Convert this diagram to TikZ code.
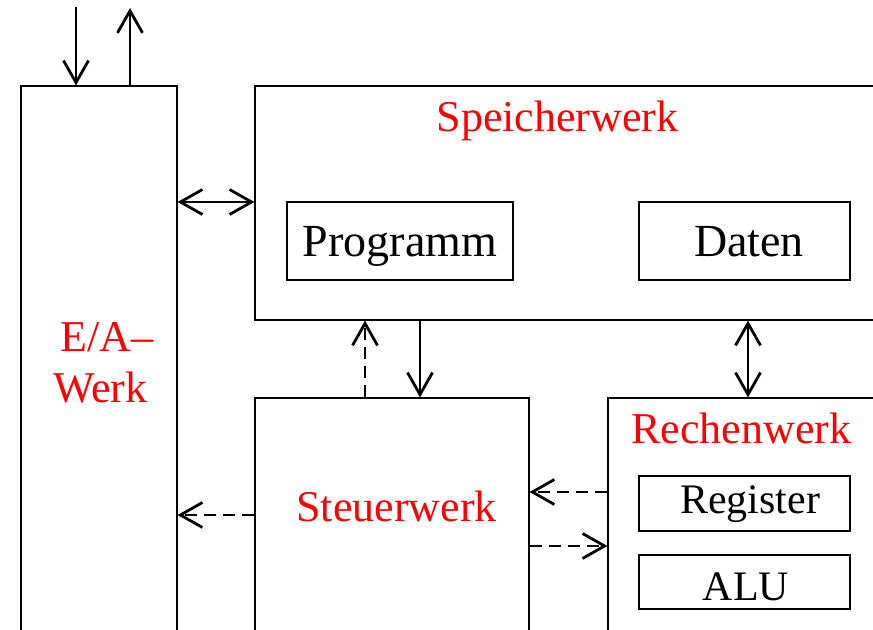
\documentclass[tikz,border=0pt]{standalone}
\usepackage{fontspec}
\setmainfont{Liberation Serif}
\usetikzlibrary{arrows.meta,fit}
\begin{document}
\begin{tikzpicture}[x=0.5pt,y=-0.5pt,
  box/.style={draw, line width=0.6pt, inner sep=0pt},
  arr/.style={line width=1.4pt, -{Straight Barb[length=11pt,width=12.5pt]}},
  darr/.style={line width=1.4pt, {Straight Barb[length=11pt,width=12.5pt]}-{Straight Barb[length=11pt,width=12.5pt]}},
  dsh/.style={dash pattern=on 6pt off 3.5pt},
  redlbl/.style={text=red, inner sep=0pt, anchor=base, font=\fontsize{22}{26}\selectfont},
  lbl/.style={inner sep=0pt, anchor=base, font=\fontsize{23}{27}\selectfont},
  slbl/.style={inner sep=0pt, anchor=base, font=\fontsize{21}{25}\selectfont}
]
\useasboundingbox (0,0) rectangle (873,630);
\fill[white] (0,0) rectangle (873,630);
\clip (0,0) rectangle (873,630);

% boxes
\node[box, fit={(21,86)(177,720)}] (ea) {};
\node[box, fit={(255,86)(960,320)}] (sp) {};
\node[box, fit={(287,202)(513,280)}] (prog) {};
\node[box, fit={(639,202)(850,280)}] (dat) {};
\node[box, fit={(255,398)(529,720)}] (st) {};
\node[box, fit={(608,398)(960,720)}] (re) {};
\node[box, fit={(639,476)(850,531)}] (reg) {};
\node[box, fit={(639,555)(850,609)}] (alu) {};

% labels
\node[redlbl] (spl) at (557.5,132) {Speicherwerk};
\node[lbl] (progl) at (400,257) {Programm};
\node[lbl] (datl) at (749,257) {Daten};
\node[redlbl] (stl) at (396.5,522) {Steuerwerk};
\node[redlbl] (rel) at (741.5,444) {Rechenwerk};
\node[slbl] (regl) at (750,514) {Register};
\node[slbl] (alul) at (746,600) {ALU};
\node[redlbl, anchor=base west] (eal1) at (60,352) {E/A–};
\node[redlbl, anchor=base west] (eal2) at (53,403) {Werk};

% free ends
\coordinate (in) at (76,7);
\coordinate (out) at (130,8);

% connectors
\draw[arr] (in) -- (in |- ea.north);
\draw[arr] (out |- ea.north) -- (out);
\draw[darr] (ea.east |- 0,202) -- (sp.west |- 0,202);
\draw[arr, dsh] (365,0 |- st.north) -- (365,0 |- sp.south);
\draw[arr] (420,0 |- sp.south) -- (420,0 |- st.north);
\draw[darr] (748,0 |- sp.south) -- (748,0 |- re.north);
\draw[arr, dsh] (st.west |- 0,515) -- (ea.east |- 0,515);
\draw[arr, dsh] (re.west |- 0,492) -- (st.east |- 0,492);
\draw[arr, dsh] (st.east |- 0,546) -- (re.west |- 0,546);
\end{tikzpicture}
\end{document}
